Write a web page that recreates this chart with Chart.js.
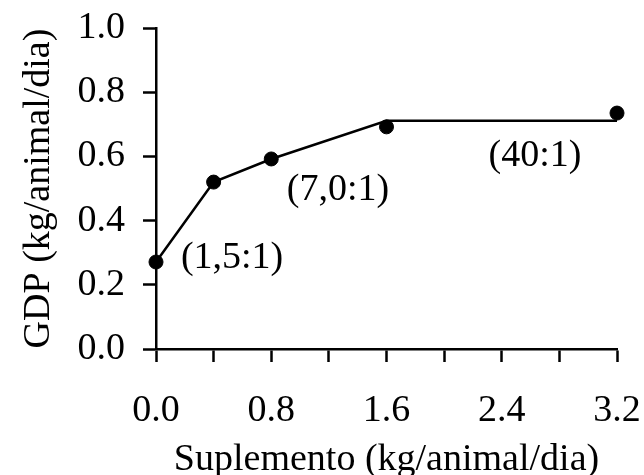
<!DOCTYPE html>
<html>
<head>
<meta charset="utf-8">
<script src="https://cdn.jsdelivr.net/npm/chart.js@4"></script>
<style>
  html, body { margin: 0; padding: 0; background: #fff; }
  #wrap { width: 644px; height: 475px; }
</style>
</head>
<body>
<div id="wrap"><canvas id="chartCanvas"></canvas></div>
<script>
// observed points
const supplementX = [0, 0.4, 0.8, 1.6, 3.2];
const gdpObserved = [0.271, 0.52, 0.592, 0.692, 0.735];
// fitted broken line
const fitX = [0, 0.4, 0.8, 1.6, 3.2];
const fitY = [0.271, 0.52, 0.592, 0.711, 0.711];
// ratio labels and their anchors (data units)
const ratioLabels = ['(1,5:1)', '(7,0:1)', '(40:1)'];
const ratioX = [0.528, 1.263, 2.631];
const ratioY = [0.283, 0.495, 0.601];

const font = "'Liberation Serif', 'Times New Roman', serif";
const fontSize = 38;

const ratioPlugin = {
    id: 'ratioLabels',
    afterDatasetsDraw(chart) {
        const { ctx, scales } = chart;
        ctx.save();
        ctx.fillStyle = '#000';
        ctx.font = fontSize + 'px ' + font;
        ctx.textAlign = 'center';
        ctx.textBaseline = 'middle';
        ratioLabels.forEach((t, i) => {
            ctx.fillText(t, scales.x.getPixelForValue(ratioX[i]), scales.y.getPixelForValue(ratioY[i]));
        });
        ctx.restore();
    }
};

// drop the automatic overflow padding so layout.padding sets the plot edges
const noAutoPad = s => {
    s.paddingTop = 0;
    s.paddingBottom = 0;
    s.paddingLeft = 0;
    s.paddingRight = 0;
};

const chartCanvas = document.getElementById('chartCanvas');
new Chart(chartCanvas, {
    type: 'scatter',
    data: {
        datasets: [
            {
                type: 'line',
                data: fitX.map((x, i) => ({ x, y: fitY[i] })),
                borderColor: '#000',
                borderWidth: 2.5,
                pointRadius: 0,
                tension: 0,
                fill: false,
                clip: false
            },
            {
                data: supplementX.map((x, i) => ({ x, y: gdpObserved[i] })),
                backgroundColor: '#000',
                borderColor: '#000',
                pointRadius: 7,
                pointHoverRadius: 7,
                clip: false
            }
        ]
    },
    options: {
        responsive: true,
        maintainAspectRatio: false,
        animation: false,
        events: [],
        layout: { padding: { top: 28, right: 27, left: 0, bottom: 0 } },
        plugins: {
            legend: { display: false },
            tooltip: { enabled: false }
        },
        scales: {
            x: {
                type: 'linear',
                min: 0,
                max: 3.2,
                border: { display: true, color: '#000', width: 2.5 },
                grid: { drawOnChartArea: false, drawTicks: true, tickLength: 13, tickColor: '#000', tickWidth: 2.5 },
                ticks: {
                    stepSize: 0.4,
                    color: '#000',
                    padding: 26,
                    maxRotation: 0,
                    autoSkip: false,
                    font: { family: font, size: fontSize },
                    callback: v => (Math.round(v * 10) % 8 === 0 ? v.toFixed(1) : '')
                },
                title: {
                    display: true,
                    text: 'Suplemento (kg/animal/dia)',
                    color: '#000',
                    padding: { top: 0, bottom: -8 },
                    font: { family: font, size: fontSize }
                },
                afterFit: s => { s.height = 126; noAutoPad(s); }
            },
            y: {
                min: 0,
                max: 1.0,
                border: { display: true, color: '#000', width: 2.5 },
                grid: { drawOnChartArea: false, drawTicks: true, tickLength: 13, tickColor: '#000', tickWidth: 2.5 },
                ticks: {
                    stepSize: 0.2,
                    color: '#000',
                    padding: 18,
                    font: { family: font, size: fontSize },
                    callback: v => v.toFixed(1)
                },
                title: {
                    display: true,
                    text: 'GDP (kg/animal/dia)',
                    color: '#000',
                    padding: { top: 16, bottom: 0 },
                    font: { family: font, size: fontSize }
                },
                afterFit: s => { s.width = 156; noAutoPad(s); }
            }
        }
    },
    plugins: [ratioPlugin]
});
</script>
</body>
</html>
